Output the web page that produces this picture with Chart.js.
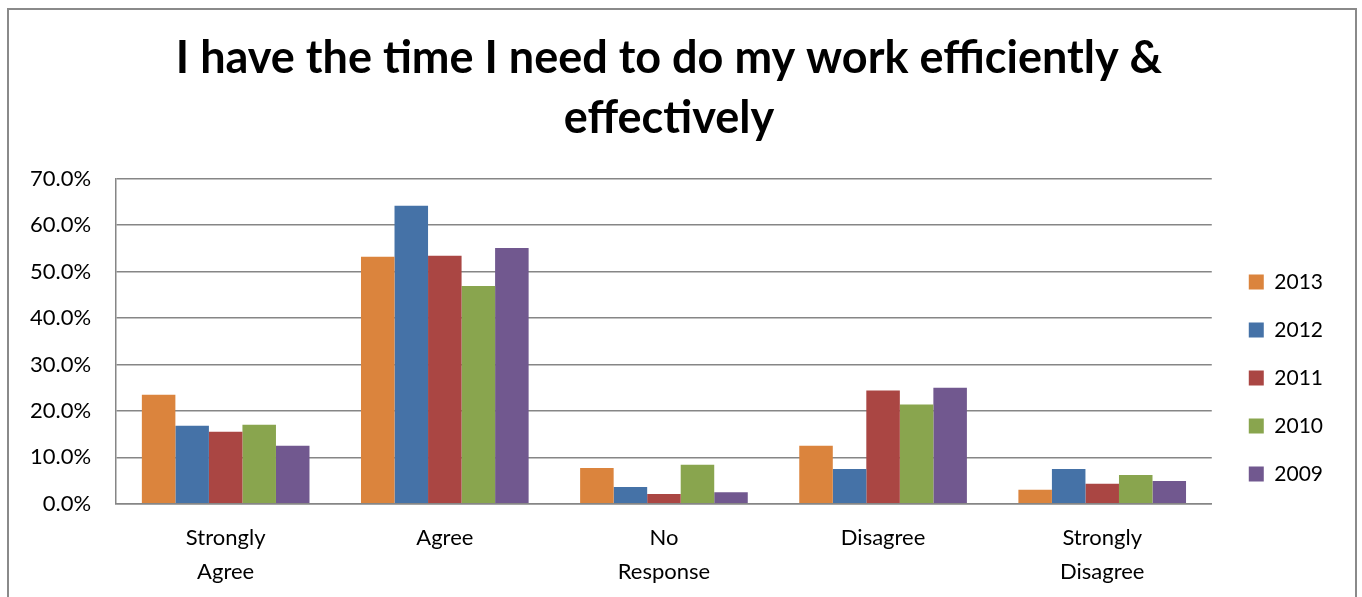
<!DOCTYPE html>
<html>
<head>
<meta charset="utf-8">
<script src="https://cdn.jsdelivr.net/npm/chart.js@4"></script>
<style>
  html, body { margin: 0; padding: 0; background: #fff; }
  #wrap { position: relative; width: 1362px; height: 597px; overflow: hidden; }
  #frame { position: absolute; left: 7px; top: 8px; width: 1346px; height: 600px; border: 2px solid #8a8a8a; }
  #chart { position: absolute; left: 0; top: 0; }
</style>
</head>
<body>
<div id="wrap">
  <div id="frame"></div>
  <canvas id="chart" width="1362" height="597"></canvas>
</div>
<script>
// survey answers, share of respondents per year
const categories = [['Strongly', 'Agree'], 'Agree', ['No', 'Response'], 'Disagree', ['Strongly', 'Disagree']];
const years = ['2013', '2012', '2011', '2010', '2009'];
const colors = ['#DB843D', '#4572A7', '#AA4643', '#89A54E', '#71588F'];

const y2013 = [23.5, 53.2, 7.7, 12.5, 3.0];
const y2012 = [16.8, 64.2, 3.6, 7.5, 7.5];
const y2011 = [15.5, 53.4, 2.1, 24.4, 4.3];
const y2010 = [17.0, 46.9, 8.4, 21.4, 6.2];
const y2009 = [12.5, 55.1, 2.5, 25.0, 4.9];

const yTicks = [0, 10, 20, 30, 40, 50, 60, 70];

const series = [y2013, y2012, y2011, y2010, y2009];
const fontFamily = 'Lato, "Open Sans", sans-serif';

const ctx = document.getElementById('chart').getContext('2d');
new Chart(ctx, {
    type: 'bar',
    data: {
        labels: categories,
        datasets: series.map((vals, i) => ({
            label: years[i],
            data: vals,
            backgroundColor: colors[i],
            borderWidth: 0,
            categoryPercentage: 0.765,
            barPercentage: 1.0
        }))
    },
    options: {
        responsive: false,
        animation: false,
        layout: {
            padding: { left: 5, right: 29, top: 0, bottom: -9 }
        },
        plugins: {
            title: {
                display: true,
                text: ['I have the time I need to do my work efficiently &', 'effectively'],
                color: '#000',
                font: { family: fontFamily, size: 45, weight: 'bold', lineHeight: 1.33 },
                padding: { top: 29, bottom: 30 }
            },
            legend: {
                position: 'right',
                // blank title only pushes the items down
                title: {
                    display: true,
                    text: ' ',
                    font: { size: 1 },
                    padding: { top: 0, bottom: 149 }
                },
                labels: {
                    color: '#000',
                    font: { family: fontFamily, size: 21 },
                    boxWidth: 15,
                    boxHeight: 15,
                    padding: 27
                }
            },
            tooltip: { enabled: false }
        },
        scales: {
            x: {
                grid: { display: false, drawTicks: false },
                border: { color: '#868686', width: 1.5 },
                ticks: {
                    color: '#000',
                    font: { family: fontFamily, size: 22, lineHeight: 1.55 },
                    maxRotation: 0,
                    padding: 17
                }
            },
            y: {
                min: 0,
                max: 70,
                afterBuildTicks: axis => { axis.ticks = yTicks.map(v => ({ value: v })); },
                grid: { color: '#868686', lineWidth: 1.5, drawTicks: false },
                border: { color: '#868686', width: 1.5 },
                ticks: {
                    color: '#000',
                    font: { family: fontFamily, size: 22 },
                    padding: 25,
                    callback: v => v.toFixed(1) + '%'
                }
            },
            // empty spacer between the plot and the legend
            gap: {
                type: 'linear',
                position: 'right',
                grid: { display: false, drawTicks: false },
                border: { display: false },
                ticks: { display: false },
                afterFit: axis => { axis.width = 10; }
            }
        }
    }
});
</script>
</body>
</html>
